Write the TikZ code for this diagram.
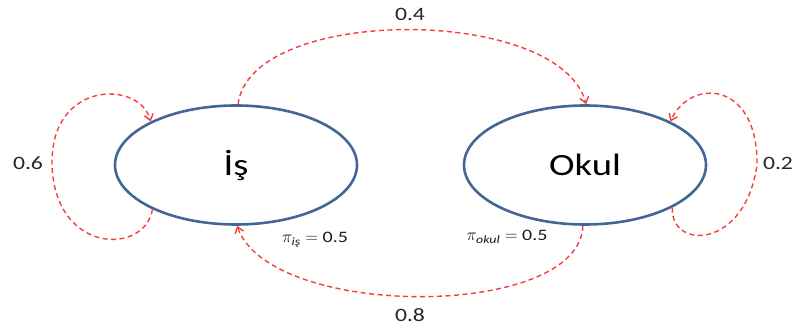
\documentclass[tikz,border=0pt]{standalone}
\usepackage{amsmath}
\usepackage{fontspec}
\setmainfont{Carlito}[FakeStretch=1.25]
\usetikzlibrary{shapes.geometric,arrows.meta}
\definecolor{stateblue}{RGB}{68,102,150}
\definecolor{trred}{RGB}{250,60,60}
\tikzset{
  state/.style={ellipse,draw=stateblue,line width=2.6bp,minimum width=242bp,minimum height=119bp,font=\fontsize{31}{34}\selectfont},
  trans/.style={draw=trred,line width=1.4bp,dash pattern=on 5bp off 3.5bp,-{Straight Barb[length=6bp,width=9bp]}},
  prob/.style={font=\fontsize{19}{22}\selectfont,text=black!85},
  init/.style={font=\fontsize{16}{18}\selectfont,text=black!90}
}
\begin{document}
\begin{tikzpicture}[line join=round]
\useasboundingbox (0bp,0bp) rectangle (799bp,331bp);
%% states
\node (is) at (236bp,166bp) [state] {İş};
\node (okul) at (585bp,166bp) [state] {Okul};
%% transitions
\draw [trans] (is.208) ..controls (145bp,76bp) and (55bp,76bp) .. (52bp,166bp)
  ..controls (50bp,251bp) and (140bp,251bp) .. (is.153);
\draw [trans] (okul.334) ..controls (670bp,81bp) and (745bp,81bp) .. (757bp,166bp)
  ..controls (758bp,251bp) and (690bp,253bp) .. (okul.27);
\draw [trans] (is.88) ..controls (250bp,326bp) and (560bp,326bp) .. (okul.89);
\draw [trans] (okul.268) ..controls (580bp,11bp) and (270bp,11bp) .. (is.271);
%% labels
\node (p_is) at (28bp,168bp) [prob] {0.6};
\node (p_io) at (410bp,317bp) [prob] {0.4};
\node (p_oo) at (778bp,168bp) [prob] {0.2};
\node (p_oi) at (410bp,16bp) [prob] {0.8};
\node (pi_is) at (315bp,91bp) [init] {$\pi_{\textit{iş}}=\text{0.5}$};
\node (pi_okul) at (507bp,94bp) [init] {$\pi_{\textit{okul}}=\text{0.5}$};
%
\end{tikzpicture}
\end{document}
